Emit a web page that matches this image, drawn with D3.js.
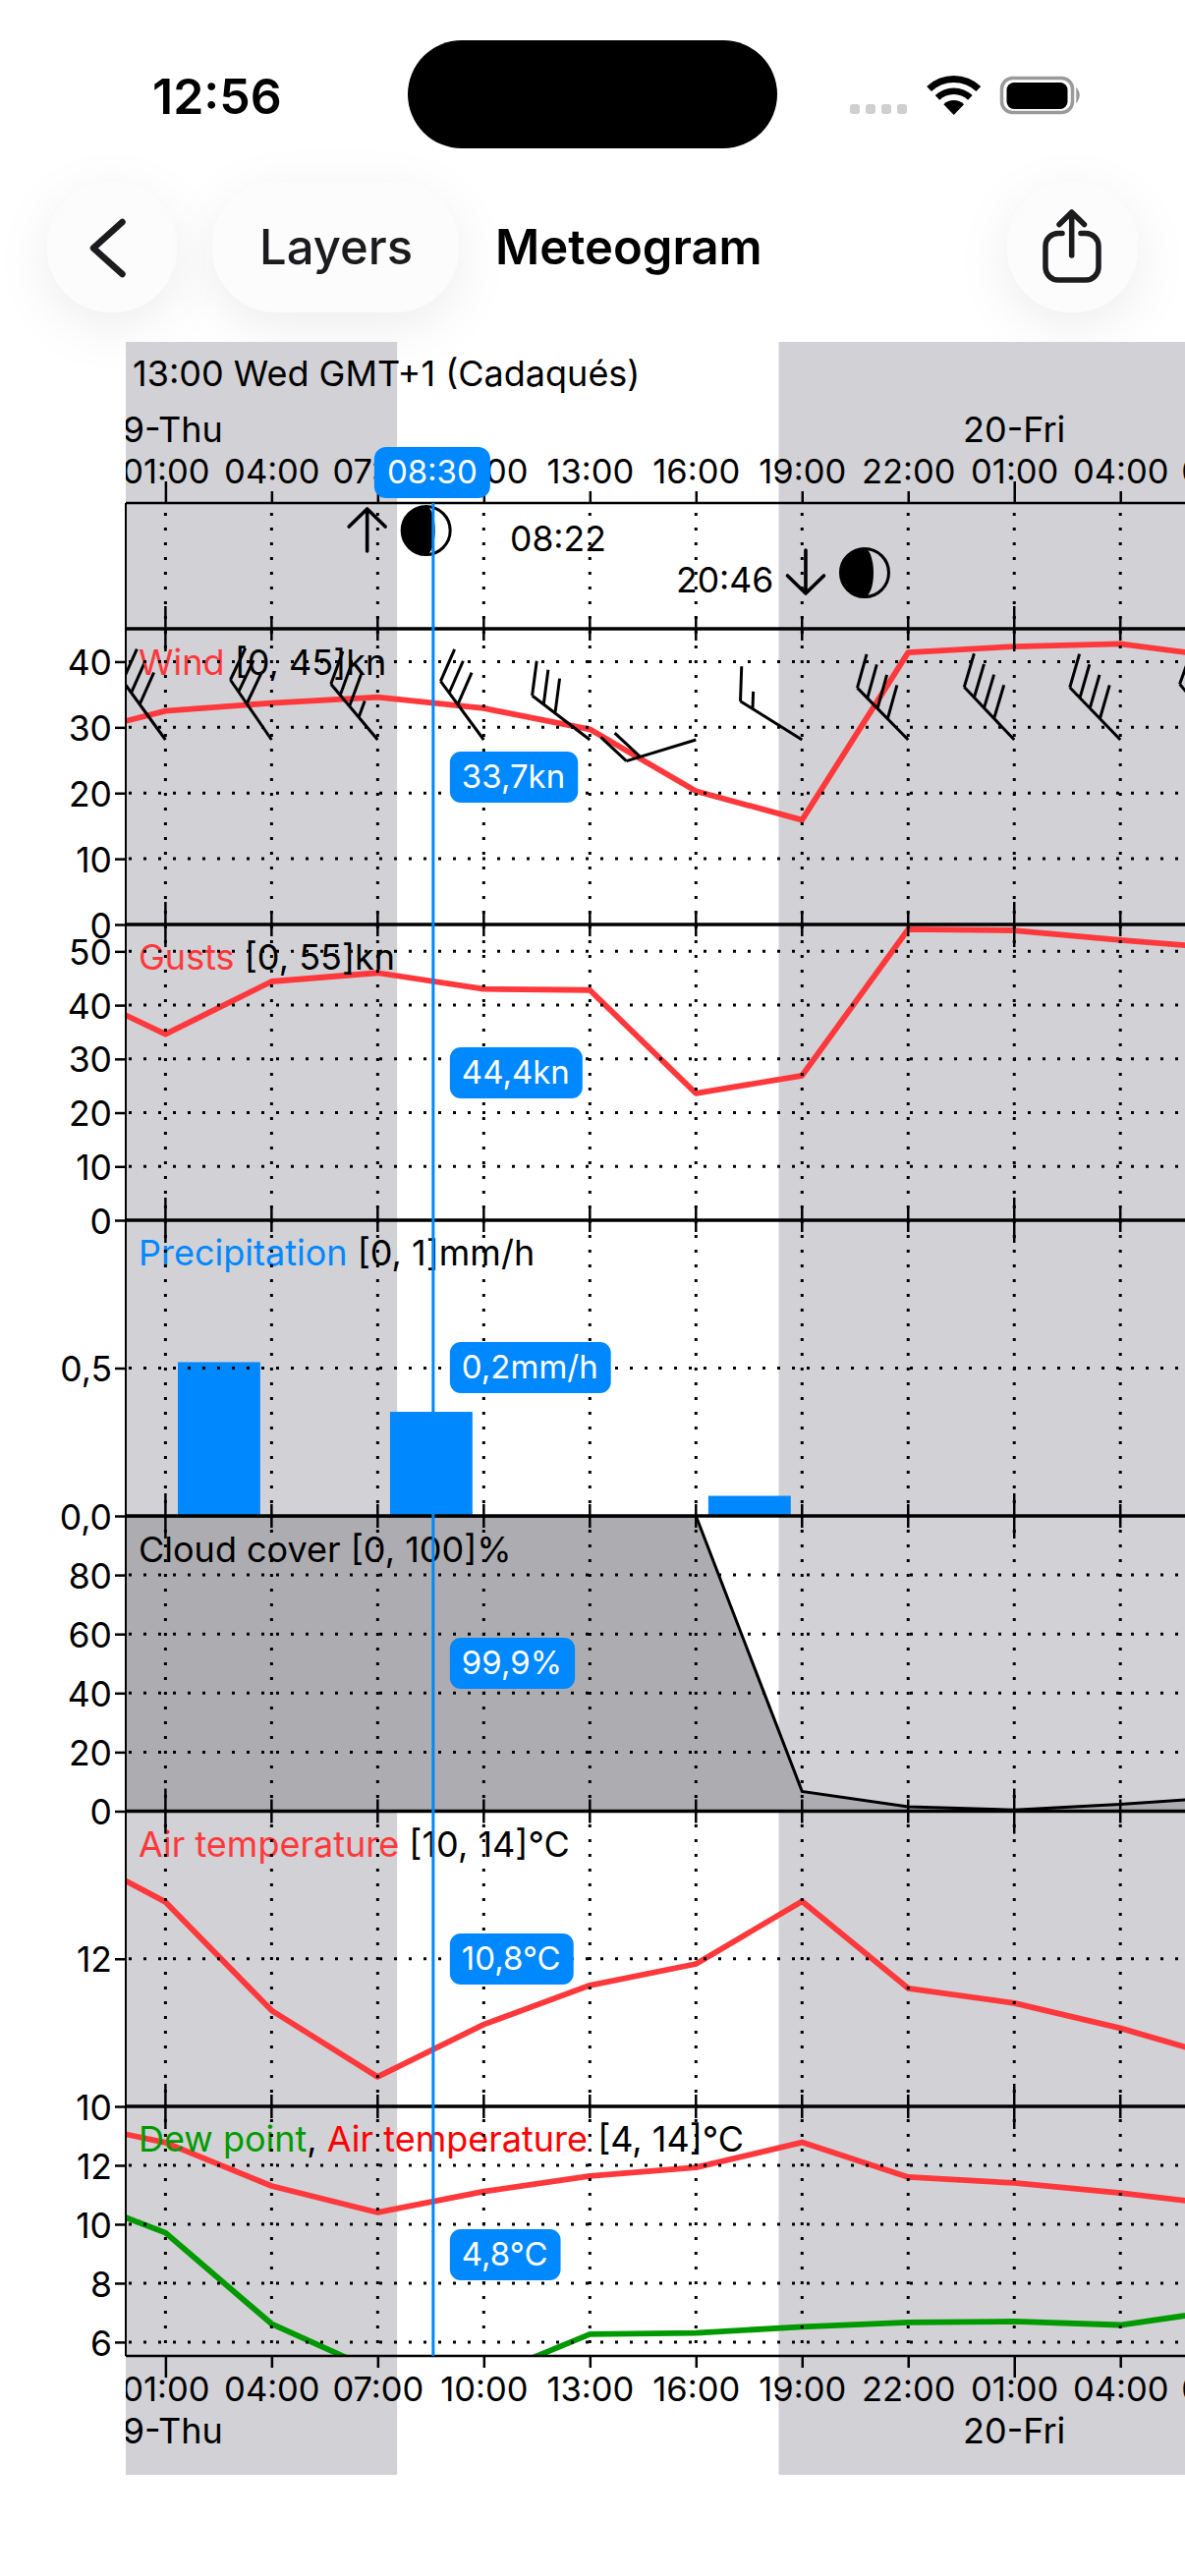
<!DOCTYPE html>
<html>
<head>
<meta charset="utf-8">
<script src="https://cdn.jsdelivr.net/npm/d3@7"></script>
<style>
  html, body { margin:0; padding:0; background:#fff; }
  svg { display:block; }
  text { font-family:Inter, "Noto Sans", sans-serif; font-size:36px; fill:#000; }
  .axis path { display:none; }
  .axis line { stroke:#000; stroke-width:2.5px; }
  .grid { stroke:#000; stroke-width:3px; stroke-dasharray:3 12; }
  .sep { stroke:#000; stroke-width:3.5px; }
</style>
</head>
<body>
<svg id="chart" width="1206" height="2622"></svg>
<script>
// hours counted from 00:00 on the 19th
const hours = [-2, 1, 4, 7, 10, 13, 16, 19, 22, 25, 28, 31];
const wind = [28.4, 32.5, 33.7, 34.6, 32.9, 29.7, 20.3, 15.9, 41.4, 42.3, 42.7, 40.6];
const gusts = [44.0, 34.6, 44.4, 46.0, 43.0, 42.8, 23.6, 26.9, 54.1, 53.9, 52.1, 50.5];
const precip = [0, 0.52, 0, 0.352, 0, 0, 0.068, 0, 0, 0, 0, 0];
const cloud = [100, 100, 100, 100, 100, 100, 100, 6.7, 1.5, 0.4, 2.3, 4.8];
const airTemp = [13.53, 12.77, 11.30, 10.40, 11.11, 11.64, 11.93, 12.78, 11.60, 11.40, 11.06, 10.64];
const dewPoint = [11.1, 9.71, 6.62, 4.99, 4.78, 6.27, 6.31, 6.52, 6.67, 6.70, 6.58, 7.1];

// wind barbs: direction the staff points to (deg), full and half feathers
const barbHours = [1, 4, 7, 10, 13, 16, 19, 22, 25, 28, 31];
const barbDir = [324, 325.5, 320, 323.6, 307.5, 253, 302, 315.6, 316.5, 316, 320];
const barbFull = [3, 3, 3, 3, 3, 2, 1, 4, 4, 4, 4];
const barbHalf = [0, 0, 1, 0, 0, 0, 1, 0, 0, 0, 0];

const tickHours = [1, 4, 7, 10, 13, 16, 19, 22, 25, 28, 31];
const dayTicks = [1, 25];
const days = [{h:1, label:'19-Thu'}, {h:25, label:'20-Fri'}];
const sunRise = 7.55, sunSet = 18.34, moonRise = 8.37, moonSet = 20.77, cursorHour = 8.57;

const wTicks = [0, 10, 20, 30, 40];
const gTicks = [0, 10, 20, 30, 40, 50];
const pTicks = [0, 0.5];
const cTicks = [0, 20, 40, 60, 80];
const aTicks = [10, 12];
const dTicks = [6, 8, 10, 12];

const BLUE = '#0088ff', RED = '#ff383c', GREEN = '#009a00', SHADE = '#d1d1d6';
const plotLeft = 128, plotRight = 1206;
const svg = d3.select('#chart');
const defs = svg.append('defs');

const x = d3.scaleLinear().domain([1, 28]).range([168.4, 1140.2]);
const comma = d => String(d).replace('.', ',');
const hhmm = h => String(((h % 24) + 24) % 24).padStart(2, '0') + ':00';

const panels = [
  {id:'wind',  top:640,  bottom:941,  dom:[0, 45],  ticks:wTicks, fmt:d3.format('d')},
  {id:'gusts', top:941,  bottom:1242, dom:[0, 55],  ticks:gTicks, fmt:d3.format('d')},
  {id:'prec',  top:1242, bottom:1543, dom:[0, 1],   ticks:pTicks, fmt:d3.format('.1f')},
  {id:'cloud', top:1543, bottom:1843.5, dom:[0, 100], ticks:cTicks, fmt:d3.format('d')},
  {id:'air',   top:1843.5, bottom:2144, dom:[10, 14], ticks:aTicks, fmt:d3.format('d')},
  // dew point panel is cut off at the bottom, the scale keeps going
  {id:'dew',   top:2144, bottom:2398, dom:[14, 5.53], rev:true, ticks:dTicks, fmt:d3.format('d')}
];
panels.forEach(p => {
  p.y = p.rev
    ? d3.scaleLinear().domain(p.dom).range([p.top, p.bottom])
    : d3.scaleLinear().domain(p.dom).range([p.bottom, p.top]);
  defs.append('clipPath').attr('id', 'clip-' + p.id).append('rect')
    .attr('x', plotLeft).attr('y', p.top).attr('width', plotRight - plotLeft).attr('height', p.bottom - p.top);
});
const P = Object.fromEntries(panels.map(p => [p.id, p]));
defs.append('clipPath').attr('id', 'clip-x').attr('clipPathUnits', 'userSpaceOnUse').append('rect')
  .attr('x', plotLeft).attr('y', 0).attr('width', plotRight - plotLeft).attr('height', 2622);
const shadow = defs.append('filter').attr('id', 'glow').attr('x', '-60%').attr('y', '-60%').attr('width', '220%').attr('height', '220%');
shadow.append('feDropShadow').attr('dx', 0).attr('dy', 14).attr('stdDeviation', 26).attr('flood-color', '#000').attr('flood-opacity', 0.07);

// Status bar and navigation
const chrome = svg.append('g');
chrome.append('text').attr('x', 155).attr('y', 116).attr('font-weight', 600).style('font-size', '50px').text('12:56');
chrome.append('rect').attr('x', 415).attr('y', 41).attr('width', 376).attr('height', 110).attr('rx', 55).attr('fill', '#000');
chrome.selectAll('rect.sig').data(d3.range(4)).join('rect').attr('class', 'sig')
  .attr('x', d => 865 + d * 16).attr('y', 106).attr('width', 10).attr('height', 10).attr('rx', 3).attr('fill', '#cfcfcf');
const wifi = d3.arc().startAngle(-0.76).endAngle(0.76);
[[0, 15], [21, 27.5], [33, 40]].forEach(([r0, r1]) => {
  chrome.append('path').attr('transform', 'translate(970.7,117)').attr('fill', '#000')
    .attr('d', wifi({innerRadius:r0, outerRadius:r1}));
});
chrome.append('rect').attr('x', 1019.5).attr('y', 79.5).attr('width', 72).attr('height', 35).attr('rx', 11)
  .attr('fill', 'none').attr('stroke', '#9a9a9a').attr('stroke-width', 3.5);
chrome.append('rect').attr('x', 1024.5).attr('y', 84).attr('width', 62).attr('height', 27).attr('rx', 7.5).attr('fill', '#000');
chrome.append('path').attr('d', 'M1096,91 Q1100,97 1096,103 Z').attr('fill', '#9a9a9a').attr('stroke', '#9a9a9a').attr('stroke-width', 1.5);

const bubbles = chrome.append('g').attr('fill', '#fcfcfc');
bubbles.append('rect').attr('x', 48).attr('y', 185).attr('width', 132).attr('height', 133).attr('rx', 66).attr('filter', 'url(#glow)');
bubbles.append('rect').attr('x', 216).attr('y', 185).attr('width', 251).attr('height', 133).attr('rx', 66).attr('filter', 'url(#glow)');
bubbles.append('rect').attr('x', 1025).attr('y', 185).attr('width', 133).attr('height', 133).attr('rx', 66).attr('filter', 'url(#glow)');
chrome.append('path').attr('d', 'M124.5,226 L95,252.5 L124.5,279')
  .attr('fill', 'none').attr('stroke', '#1c1c1e').attr('stroke-width', 6.5).attr('stroke-linecap', 'round').attr('stroke-linejoin', 'round');
chrome.append('text').attr('x', 264).attr('y', 269).attr('font-weight', 500).style('font-size', '49px').style('fill', '#1c1c1e').text('Layers');
chrome.append('text').attr('x', 504).attr('y', 269).attr('font-weight', 600).style('font-size', '49px').text('Meteogram');
chrome.append('path')
  .attr('d', 'M1081,237.5 H1077 a13,13 0 0 0 -13,13 V272 a13,13 0 0 0 13,13 H1105 a13,13 0 0 0 13,-13 V250.5 a13,13 0 0 0 -13,-13 H1100 M1090.7,260 V216.5 M1078,228.5 L1090.7,216 L1103.5,228.5')
  .attr('fill', 'none').attr('stroke', '#1c1c1e').attr('stroke-width', 5.5).attr('stroke-linecap', 'round').attr('stroke-linejoin', 'round');

// Night shading
const shadeG = svg.append('g').attr('clip-path', 'url(#clip-x)');
[[-2, sunRise], [sunSet, 40]].forEach(([a, b]) => {
  shadeG.append('rect').attr('x', x(a)).attr('y', 348).attr('width', x(b) - x(a)).attr('height', 2519 - 348).attr('fill', SHADE);
});

// Cloud area
const cloudG = svg.append('g').attr('clip-path', 'url(#clip-cloud)');
const cy = P.cloud.y;
cloudG.append('path').datum(cloud)
  .attr('fill', '#adacb0')
  .attr('d', d3.area().x((d, i) => x(hours[i])).y0(cy(0)).y1(d => cy(d)));
cloudG.append('path').datum(cloud)
  .attr('fill', 'none').attr('stroke', '#000').attr('stroke-width', 3)
  .attr('d', d3.line().x((d, i) => x(hours[i])).y(d => cy(d)));

// Precipitation bars, one for each 3 hour step
const py = P.prec.y;
svg.append('g').attr('clip-path', 'url(#clip-prec)').selectAll('rect').data(precip).join('rect')
  .attr('x', (d, i) => x(hours[i] + 0.35))
  .attr('width', x(3 - 0.67) - x(0))
  .attr('y', d => py(d))
  .attr('height', d => py(0) - py(d))
  .attr('fill', BLUE);

// Lines
function drawLine(panel, values, colour) {
  const y = P[panel].y;
  svg.append('g').attr('clip-path', `url(#clip-${panel})`).append('path').datum(values)
    .attr('fill', 'none').attr('stroke', colour).attr('stroke-width', 5.8).attr('stroke-linejoin', 'round')
    .attr('d', d3.line().x((d, i) => x(hours[i])).y(d => y(d)));
}
drawLine('wind', wind, RED);
drawLine('gusts', gusts, RED);
drawLine('air', airTemp, RED);
drawLine('dew', airTemp, RED);
drawLine('dew', dewPoint, GREEN);

// Wind barbs
const barbG = svg.append('g').attr('clip-path', 'url(#clip-wind)')
  .attr('fill', 'none').attr('stroke', '#000').attr('stroke-width', 3);
const barbBase = 753, staff = 74, fullLen = 35.5, step = 14.7;
const rad = d => d * Math.PI / 180;
barbHours.forEach((h, i) => {
  const a = rad(barbDir[i]), b = rad(barbDir[i] + 60);
  const bx = x(h), ex = bx + staff * Math.sin(a), ey = barbBase - staff * Math.cos(a);
  const path = d3.path();
  path.moveTo(bx, barbBase);
  path.lineTo(ex, ey);
  let pos = 0;
  const feather = len => {
    const fx = ex - pos * Math.sin(a), fy = ey + pos * Math.cos(a);
    path.moveTo(fx, fy);
    path.lineTo(fx + len * Math.sin(b), fy - len * Math.cos(b));
    pos += step;
  };
  d3.range(barbFull[i]).forEach(() => feather(fullLen));
  d3.range(barbHalf[i]).forEach(() => feather(fullLen / 2));
  barbG.append('path').attr('d', path.toString());
});

// Panel titles
function title(yPos, parts) {
  const t = svg.append('text').attr('x', 141).attr('y', yPos);
  parts.forEach(([s, c]) => t.append('tspan').style('fill', c).text(s));
}
title(687, [['Wind', RED], [' [0, 45]kn', '#000']]);
title(987, [['Gusts', RED], [' [0, 55]kn', '#000']]);
title(1288, [['Precipitation', BLUE], [' [0, 1]mm/h', '#000']]);
title(1590, [['Cloud cover [0, 100]%', '#000']]);
title(1890, [['Air temperature', RED], [' [10, 14]°C', '#000']]);
title(2190, [['Dew point', GREEN], [', ', '#000'], ['Air temperature', '#ff0000'], [' [4, 14]°C', '#000']]);

// Header
svg.append('text').attr('x', 135).attr('y', 393).text('13:00 Wed GMT+1 (Cadaqués)');
const dayG = svg.append('g').attr('clip-path', 'url(#clip-x)').attr('text-anchor', 'middle');
days.forEach(d => {
  dayG.append('text').attr('x', x(d.h)).attr('y', 449.5).text(d.label);
  dayG.append('text').attr('x', x(d.h)).attr('y', 2487).text(d.label);
});

// Moon rise and set
function moon(h, my) {
  const mx = x(h), r = 24.5;
  const g = svg.append('g');
  g.append('circle').attr('cx', mx).attr('cy', my).attr('r', r).attr('fill', 'none').attr('stroke', '#000').attr('stroke-width', 3);
  g.append('path').attr('d', `M${mx},${my - r} A${r},${r} 0 0 0 ${mx},${my + r} A9,${r} 0 0 0 ${mx},${my - r} Z`).attr('fill', '#000');
}
function arrow(xp, y0, y1) {
  const dir = y1 > y0 ? -1 : 1;
  svg.append('path')
    .attr('d', `M${xp},${y0} L${xp},${y1} M${xp - 18.5},${y1 + dir * 18} L${xp},${y1} L${xp + 18.5},${y1 + dir * 18}`)
    .attr('fill', 'none').attr('stroke', '#000').attr('stroke-width', 3.6).attr('stroke-linecap', 'round').attr('stroke-linejoin', 'round');
}
moon(moonRise, 540);
arrow(x(moonRise) - 60, 561, 518);
svg.append('text').attr('x', 519).attr('y', 561).style('font-size', '35.5px').text('08:22');
moon(moonSet, 583);
arrow(x(moonSet) - 60, 560, 604);
svg.append('text').attr('x', 688).attr('y', 603).style('font-size', '35.5px').text('20:46');

// Grid
const gridG = svg.append('g');
gridG.selectAll('line.v').data(tickHours).join('line').attr('class', 'v grid')
  .attr('x1', d => x(d)).attr('x2', d => x(d)).attr('y1', 522).attr('y2', 2398);
panels.forEach(p => {
  gridG.selectAll('line.h-' + p.id).data(p.ticks.filter(t => p.y(t) > p.top + 1 && p.y(t) < p.bottom - 1)).join('line')
    .attr('class', 'h-' + p.id + ' grid')
    .attr('x1', plotLeft + 3).attr('x2', plotRight).attr('y1', d => p.y(d)).attr('y2', d => p.y(d));
});

// Separators with their ticks
const seps = [640, 941, 1242, 1543, 1843.5, 2144];
svg.selectAll('line.sep').data(seps).join('line').attr('class', 'sep')
  .attr('x1', plotLeft).attr('x2', plotRight).attr('y1', d => d).attr('y2', d => d);
seps.forEach(yPos => {
  svg.append('g').attr('clip-path', 'url(#clip-x)').selectAll('line').data(tickHours).join('line')
    .attr('x1', d => x(d)).attr('x2', d => x(d))
    .attr('y1', d => yPos - (dayTicks.includes(d) ? 23 : 12))
    .attr('y2', d => yPos + (dayTicks.includes(d) ? 23 : 12))
    .attr('stroke', '#000').attr('stroke-width', 2.5);
});

// Axes
const xClip = svg.append('g').attr('clip-path', 'url(#clip-x)');
const topAxis = xClip.append('g').attr('class', 'axis').attr('transform', 'translate(0,512)')
  .call(d3.axisTop(x).tickValues(tickHours).tickFormat(hhmm).tickSize(11).tickPadding(9));
const bottomAxis = xClip.append('g').attr('class', 'axis').attr('transform', 'translate(0,2398)')
  .call(d3.axisBottom(x).tickValues(tickHours).tickFormat(hhmm).tickSize(12));
bottomAxis.selectAll('text').attr('y', 45.6).attr('dy', 0);
[topAxis, bottomAxis].forEach((g, i) => {
  g.selectAll('.tick line').attr('y2', d => (i ? 1 : -1) * (dayTicks.includes(d) ? 22 : 12));
  g.selectAll('text').style('fill', '#000').style('font-size', '34.5px').style('font-family', 'Inter');
});
svg.append('line').attr('x1', plotLeft).attr('x2', plotRight).attr('y1', 512).attr('y2', 512).attr('stroke', '#000').attr('stroke-width', 2.4);
svg.append('line').attr('x1', plotLeft).attr('x2', plotRight).attr('y1', 2398).attr('y2', 2398).attr('stroke', '#000').attr('stroke-width', 2.4);
svg.append('line').attr('x1', plotLeft).attr('x2', plotLeft).attr('y1', 512).attr('y2', 2398).attr('stroke', '#000').attr('stroke-width', 2);

panels.forEach(p => {
  const g = svg.append('g').attr('class', 'axis').attr('transform', `translate(${plotLeft},0)`)
    .call(d3.axisLeft(p.y).tickValues(p.ticks).tickFormat(d => comma(p.fmt(d))).tickSize(11).tickPadding(3));
  g.selectAll('text').attr('dy', '0.37em').style('fill', '#000').style('font-size', '35.5px').style('font-family', 'Inter');
});

// Cursor
svg.append('line').attr('x1', x(cursorHour)).attr('x2', x(cursorHour)).attr('y1', 512).attr('y2', 2398)
  .attr('stroke', BLUE).attr('stroke-width', 3);
const pills = [
  {t:'33,7kn', y:791}, {t:'44,4kn', y:1092}, {t:'0,2mm/h', y:1392},
  {t:'99,9%', y:1693}, {t:'10,8°C', y:1994}, {t:'4,8°C', y:2295}
];
pills.forEach(d => {
  const g = svg.append('g');
  const r = g.append('rect').attr('x', x(cursorHour) + 17).attr('y', d.y - 26).attr('height', 52).attr('rx', 11).attr('fill', BLUE);
  const t = g.append('text').attr('x', x(cursorHour) + 29).attr('y', d.y + 11).style('fill', '#fff').style('font-size', '33px').text(d.t);
  r.attr('width', t.node().getComputedTextLength() + 25);
});
const cur = svg.append('g');
const curR = cur.append('rect').attr('x', x(cursorHour) - 60).attr('y', 455).attr('width', 118).attr('height', 52).attr('rx', 12).attr('fill', BLUE);
cur.append('text').attr('x', +curR.attr('x') + 59).attr('y', 492).attr('text-anchor', 'middle').style('fill', '#fff').style('font-size', '33px').text('08:30');
</script>
</body>
</html>
